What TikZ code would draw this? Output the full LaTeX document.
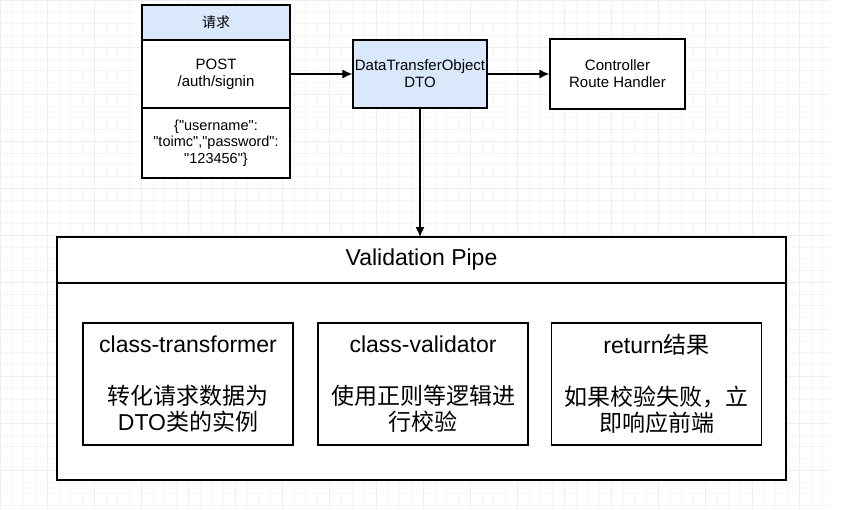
\documentclass[tikz,border=0pt]{standalone}
\usepackage{fontspec}
\setmainfont{Liberation Sans}
\newfontfamily\cjk{Noto Sans CJK SC}
\usetikzlibrary{arrows.meta}
\definecolor{headblue}{HTML}{DAE8FC}
\definecolor{gridgray}{HTML}{EEEEEE}
\newcommand{\dq}{\textquotedbl}
\tikzset{
  box/.style={draw, line width=1.2pt, minimum width=#1, inner sep=0pt, align=center,
    font=\fontsize{15}{17}\selectfont},
  stage/.style={draw, line width=1.2pt, minimum width=210pt, minimum height=122pt,
    inner sep=0pt, align=center, font=\fontsize{23}{26}\selectfont},
  arr/.style={line width=1.2pt, -{Latex[length=10pt,width=9pt]}}
}
\begin{document}
\begin{tikzpicture}[x=1pt,y=-1pt]
\useasboundingbox (0,0) rectangle (841,509);
\fill[white] (0,0) rectangle (841,509);
\draw[gridgray!60, line width=.4pt, step=11.75pt] (0,0) grid (830,509);
\draw[gridgray, line width=.6pt, step=47pt] (0,0) grid (830,509);
% request
\node[box=148pt, minimum height=35pt, fill=headblue, font=\fontsize{14}{17}\selectfont] (reqhead) at (216,22.5) {\cjk 请求};
\node[box=148pt, minimum height=68pt, fill=white] (reqline) at (216,74) {POST\\/auth/signin};
\node[box=148pt, minimum height=70pt, fill=white, font=\fontsize{14.5}{16.5}\selectfont] (reqbody) at (216,143)
  {\{\dq username\dq:\\\dq toimc\dq,\dq password\dq:\\\dq 123456\dq\}};
\node[box=134pt, minimum height=68pt, fill=headblue] (dto) at (420,74) {DataTransferObject\\DTO};
\node[box=135pt, minimum height=70pt, fill=white] (ctrl) at (617.5,74) {Controller\\Route Handler};
% validation pipe
\draw[line width=1.2pt, fill=white] (57,237) rectangle (786,480);
\coordinate (pipetop) at (420,237);
\draw[line width=1.2pt] (57,283) -- (786,283);
\node[font=\fontsize{23}{27}\selectfont] (pipe) at (421.5,260) {Validation Pipe};
\node[stage] (trans) at (188,384) {class-transformer\\ \\{\cjk 转化请求数据为}\\DTO{\cjk 类的实例}};
\node[stage] (valid) at (423,384) {class-validator\\ \\{\cjk 使用正则等逻辑进}\\{\cjk 行校验}};
\node[stage] (ret) at (656.5,384) {return{\cjk 结果}\\ \\{\cjk 如果校验失败，立}\\{\cjk 即响应前端}};
% arrows
\draw[arr] (reqline) -- (dto);
\draw[arr] (dto) -- (ctrl);
\draw[arr] (dto) -- (pipetop);
\end{tikzpicture}
\end{document}
